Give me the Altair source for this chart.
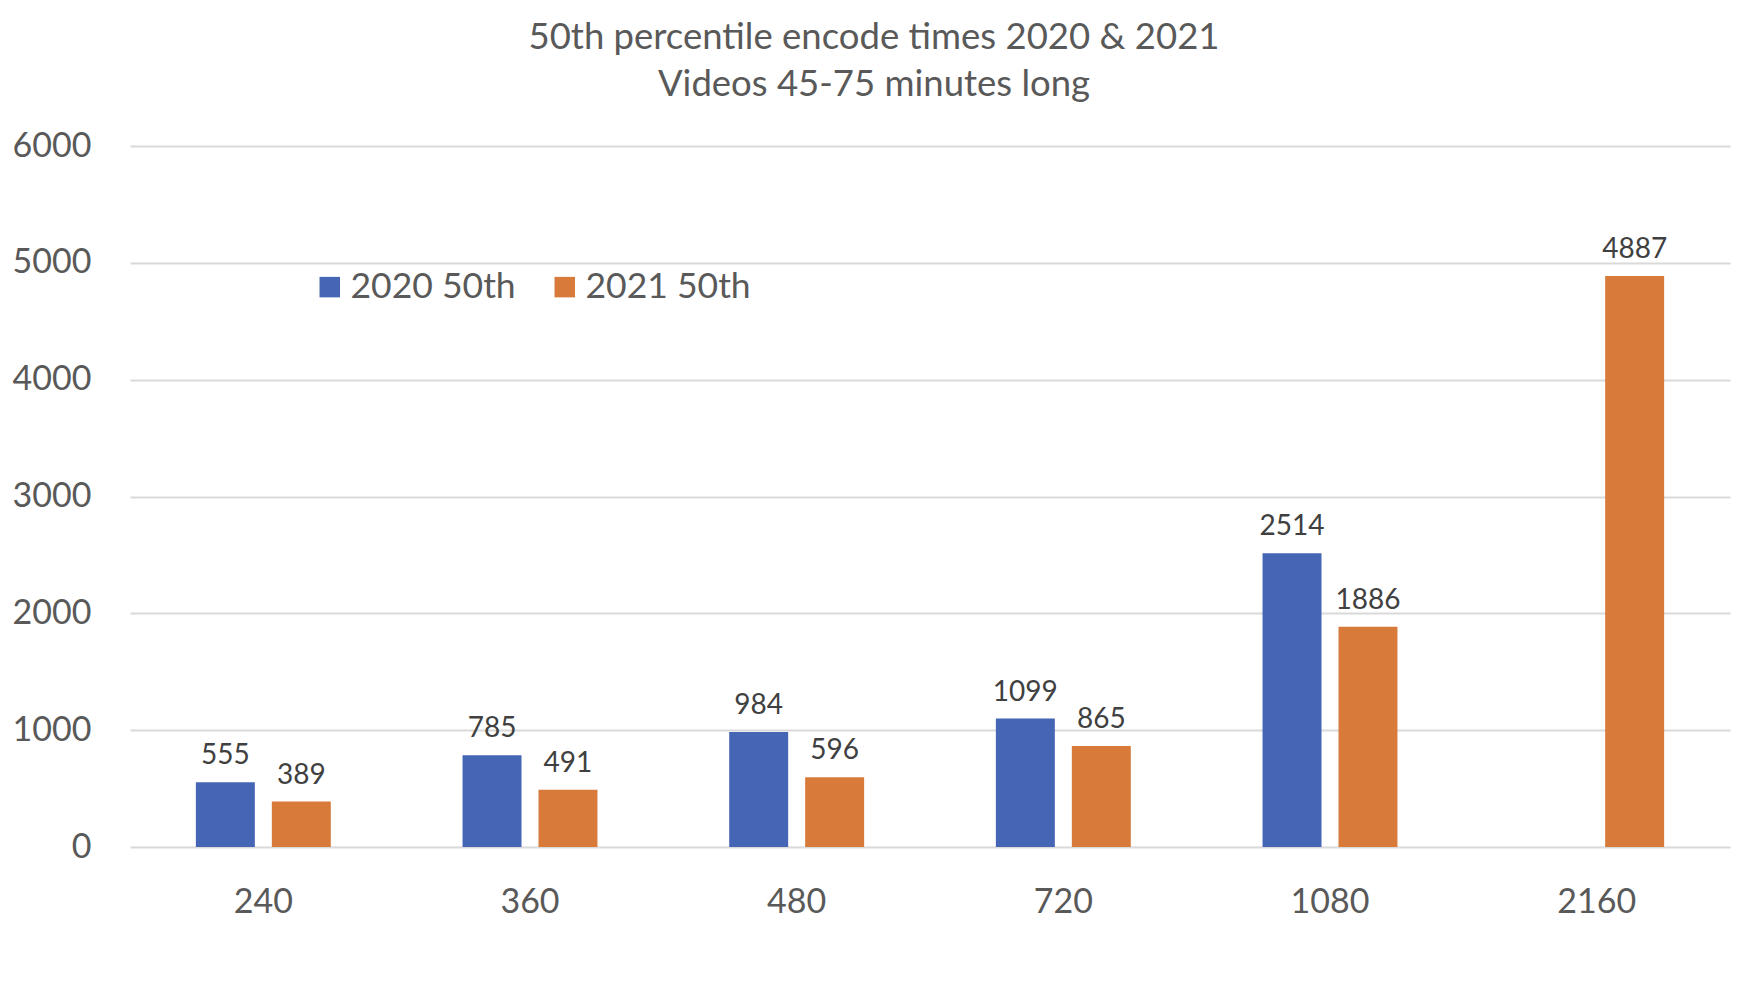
import altair as alt
import pandas as pd

categories = ["240", "360", "480", "720", "1080", "2160"]
series = ["2020 50th", "2021 50th"]
v2020 = [555, 785, 984, 1099, 2514, None]
v2021 = [389, 491, 596, 865, 1886, 4887]
colors = ["#4565B5", "#D87A39"]
title_lines = ["50th percentile encode times 2020 & 2021", "Videos 45-75 minutes long"]

rows = []
for c, a, b in zip(categories, v2020, v2021):
    if a is not None:
        rows.append({"res": c, "series": series[0], "value": a})
    if b is not None:
        rows.append({"res": c, "series": series[1], "value": b})
df = pd.DataFrame(rows)

FONT = "Lato"
GRAY = "#595959"

x = alt.X("res:N", sort=categories,
          scale=alt.Scale(domain=categories, paddingInner=0.494, paddingOuter=0.247),
          axis=alt.Axis(title=None, labelAngle=0, ticks=False, tickSize=0, domain=False,
                        labelFont=FONT, labelFontSize=34, labelColor=GRAY,
                        labelBaseline="alphabetic", labelPadding=65))
xo = alt.XOffset("series:N", sort=series,
                 scale=alt.Scale(domain=series, paddingInner=0.2237, paddingOuter=0))
y = alt.Y("value:Q", scale=alt.Scale(domain=[0, 6000], nice=False),
          axis=alt.Axis(title=None, values=[0, 1000, 2000, 3000, 4000, 5000, 6000],
                        ticks=False, tickSize=0, domain=False, format="d",
                        labelFont=FONT, labelFontSize=34, labelColor=GRAY, labelPadding=39,
                        gridColor="#D9D9D9", gridWidth=2))

bars = alt.Chart(df).mark_bar().encode(
    x=x, xOffset=xo, y=y,
    color=alt.Color("series:N", sort=series,
                    scale=alt.Scale(domain=series, range=colors),
                    legend=alt.Legend(title=None, orient="none", direction="horizontal",
                                      legendX=182, legendY=123, padding=0,
                                      symbolType="square", symbolSize=420,
                                      symbolStrokeWidth=0, labelOffset=3,
                                      columnPadding=31, labelFont=FONT, labelLimit=500,
                                      labelFontSize=35.5, labelColor=GRAY)),
)

labels = alt.Chart(df).mark_text(
    baseline="alphabetic", dy=-18, font=FONT, fontSize=28, color="#404040"
).encode(x=x, xOffset=xo, y=y, text=alt.Text("value:Q", format="d"))

chart = alt.layer(bars, labels).properties(
    width=1600, height=701,
    autosize=alt.AutoSizeParams(type="none"),
    padding={"left": 122, "top": 138, "right": 10, "bottom": 120},
    title=alt.TitleParams(text=title_lines, font=FONT, fontSize=36.5, fontWeight="normal",
                          color=GRAY, anchor="middle", frame="group", dx=-56,
                          lineHeight=47, offset=26),
).configure_view(stroke=None)

chart.save("out.html", embed_options={"renderer": "svg", "actions": False})
